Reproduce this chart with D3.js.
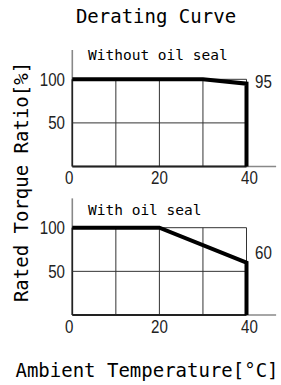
<!DOCTYPE html>
<html><head><meta charset="utf-8">
<script src="https://cdn.jsdelivr.net/npm/d3@7"></script>
<style>
html,body{margin:0;padding:0;background:#fff;}
svg{display:block;}
.mono{font-family:"DejaVu Sans Mono","Liberation Mono",monospace;fill:#000;}
.num{font-family:"Liberation Sans",Arial,sans-serif;fill:#222;}
</style>
</head><body>
<script>
// ---- data ----
const title = "Derating Curve";
const xTitle = "Ambient Temperature[\u00B0C]";
const yTitle = "Rated Torque Ratio[%]";
const panelNames = ["Without oil seal", "With oil seal"];
const curveWithout = [[0,100],[30,100],[40,95],[40,0]];
const curveWith = [[0,100],[20,100],[40,60],[40,0]];
const endLabels = ["95", "60"];
const xTicks = [0, 20, 40];
const yTicks = [50, 100];
const xGrid = [0, 10, 20, 30, 40];
const yGrid = [0, 50, 100];

const W = 281, H = 385;
const svg = d3.select("body").append("svg").attr("width", W).attr("height", H);

svg.append("text").attr("class","mono").attr("x",156).attr("y",23)
  .attr("text-anchor","middle").attr("font-size",19).text(title);

svg.append("text").attr("class","mono").attr("transform","translate(28,182) rotate(-90)")
  .attr("text-anchor","middle").attr("font-size",19).text(yTitle);

svg.append("text").attr("class","mono").attr("x",147).attr("y",377)
  .attr("text-anchor","middle").attr("font-size",19).text(xTitle);

const x = d3.scaleLinear().domain([0,40]).range([72.3,246.5]);
const panels = [
  {name: panelNames[0], curve: curveWithout, label: endLabels[0], y0: 166.5, y100: 79.3, nameY: 60, labelY: 88},
  {name: panelNames[1], curve: curveWith, label: endLabels[1], y0: 315, y100: 227.7, nameY: 215, labelY: 258.5}
];

function num(g, tx, ty, anchor, t) {
  g.append("g").attr("transform", `translate(${tx},${ty}) scale(0.84,1)`)
    .append("text").attr("class","num").attr("text-anchor",anchor)
    .attr("font-size",18).text(t);
}

panels.forEach((p) => {
  const y = d3.scaleLinear().domain([0,100]).range([p.y0, p.y100]);
  const g = svg.append("g");
  // axis extensions
  g.append("line").attr("x1",x(0)).attr("x2",x(46.8)).attr("y1",y(0)).attr("y2",y(0))
    .attr("stroke","#888").attr("stroke-width",1.6);
  g.append("line").attr("x1",x(0)).attr("x2",x(0)).attr("y1",y(0)).attr("y2",y(133.6))
    .attr("stroke","#888").attr("stroke-width",1.6);
  // grid
  g.selectAll(".vg").data(xGrid).enter().append("line")
    .attr("x1",d=>x(d)).attr("x2",d=>x(d)).attr("y1",y(0)).attr("y2",y(100))
    .attr("stroke",d=>d===0?"#222":"#333").attr("stroke-width",d=>d===0?1.6:1);
  g.selectAll(".hg").data(yGrid).enter().append("line")
    .attr("x1",x(0)).attr("x2",x(40)).attr("y1",d=>y(d)).attr("y2",d=>y(d))
    .attr("stroke",d=>d===0?"#222":"#333").attr("stroke-width",d=>d===0?2:1);
  // curve
  g.append("path").datum(p.curve)
    .attr("d", d3.line().x(d=>x(d[0])).y(d=>y(d[1])))
    .attr("fill","none").attr("stroke","#000").attr("stroke-width",4).attr("stroke-linejoin","miter");
  // tick labels
  xTicks.forEach(d => num(g, x(d) + (d - 20) * 0.15, y(0) + 17.5, "middle", d));
  yTicks.forEach(d => num(g, 65, y(d) + 6.5, "end", d));
  // end label
  num(g, 255, p.labelY, "start", p.label);
  // panel name
  g.append("text").attr("class","mono").attr("x",88).attr("y",p.nameY)
    .attr("font-size",14.5).text(p.name);
});
</script>
</body></html>
